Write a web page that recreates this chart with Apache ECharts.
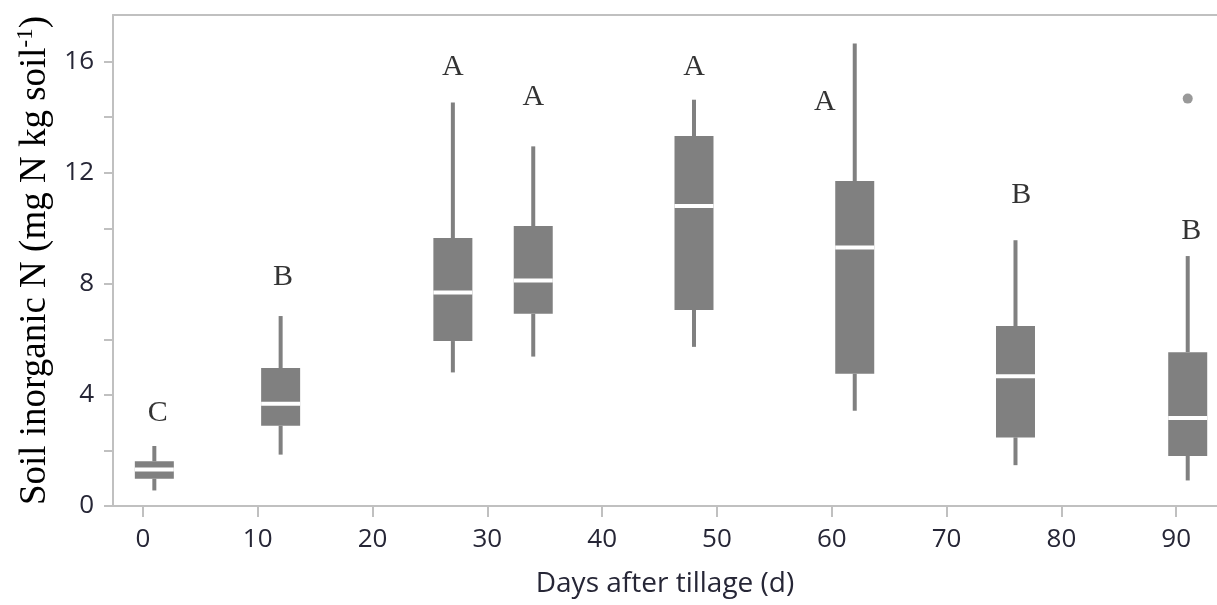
<!DOCTYPE html>
<html>
<head>
<meta charset="utf-8">
<script src="https://cdn.jsdelivr.net/npm/echarts@6/dist/echarts.min.js"></script>
<style>
html,body{margin:0;padding:0;background:#fff;}
#chart{width:1217px;height:605px;}
</style>
</head>
<body>
<div id="chart"></div>
<script>
// Box positions (days after tillage) and box statistics (mg N kg soil-1)
const days = [1, 12, 27, 34, 48, 62, 76, 91];
const whiskerLow  = [0.56, 1.85, 4.81, 5.38, 5.73, 3.43, 1.47, 0.92];
const q1          = [0.98, 2.89, 5.94, 6.92, 7.06, 4.76, 2.47, 1.80];
const median      = [1.31, 3.68, 7.69, 8.12, 10.80, 9.31, 4.67, 3.17];
const q3          = [1.61, 4.97, 9.65, 10.08, 13.32, 11.70, 6.48, 5.54];
const whiskerHigh = [2.16, 6.84, 14.53, 12.95, 14.63, 16.65, 9.57, 9.00];

// Outliers
const outlierDays = [91];
const outlierValues = [14.67];

// Significance letters
const letters = ['C', 'B', 'A', 'A', 'A', 'A', 'B', 'B'];
const letterX = [1.3, 12.2, 27, 34, 48, 59.4, 76.5, 91.3];
const letterY = [3.36, 8.24, 15.79, 14.74, 15.79, 14.56, 11.18, 9.9];

// Tick labels
const xTicks = [0, 10, 20, 30, 40, 50, 60, 70, 80, 90];
const yTicks = [0, 4, 8, 12, 16];
const yMinorTicks = [2, 6, 10, 14];

const X_MIN = -2.6, X_MAX = 93.55, Y_MIN = 0, Y_MAX = 17.68;

const boxData = days.map((d, i) => [d, whiskerLow[i], q1[i], median[i], q3[i], whiskerHigh[i]]);
const outlierData = outlierDays.map((d, i) => [d, outlierValues[i]]);
const letterData = letters.map((t, i) => ({ value: [letterX[i], letterY[i]], name: t }));
const allYTickMarks = yTicks.concat(yMinorTicks).sort((a, b) => a - b);

const GRAY = '#808080';
const AXIS = '#c0c0c0';
const SANS = 'Open Sans, Noto Sans, sans-serif';
const SERIF = 'Liberation Serif, Times New Roman, serif';
const TICKFONT = { fontFamily: SANS, fontSize: 26, color: '#262636' };

const chart = echarts.init(document.getElementById('chart'), null, { renderer: 'canvas' });

const option = {
  animation: false,
  backgroundColor: '#fff',
  grid: { left: 113, right: 0, top: 15, bottom: 99 },
  xAxis: [{
    type: 'value', min: X_MIN, max: X_MAX,
    name: 'Days after tillage (d)', nameLocation: 'middle', nameGap: 64,
    nameTextStyle: { fontFamily: SANS, fontSize: 28, color: '#262636' },
    axisLine: { show: true, onZero: false, lineStyle: { color: AXIS, width: 2 } },
    axisTick: { show: true, length: 11, lineStyle: { color: AXIS, width: 2 }, customValues: xTicks },
    axisLabel: { margin: 21, customValues: xTicks, ...TICKFONT },
    splitLine: { show: false }
  }, {
    type: 'value', position: 'top', min: X_MIN, max: X_MAX,
    axisLine: { show: true, onZero: false, lineStyle: { color: AXIS, width: 2 } },
    axisTick: { show: false }, axisLabel: { show: false }, splitLine: { show: false }
  }],
  yAxis: [{
    type: 'value', min: Y_MIN, max: Y_MAX,
    name: '{a|Soil inorganic N (mg N kg soil}{s|-1}{a|)}',
    nameLocation: 'middle', nameRotate: 90, nameGap: 56,
    nameTextStyle: {
      rich: {
        a: { fontFamily: SERIF, fontSize: 37, color: '#000', lineHeight: 41 },
        s: { fontFamily: SERIF, fontSize: 23, color: '#000', verticalAlign: 'top', lineHeight: 23 }
      }
    },
    axisLine: { show: true, onZero: false, lineStyle: { color: AXIS, width: 2 } },
    axisTick: { show: true, length: 9, lineStyle: { color: AXIS, width: 2 }, customValues: allYTickMarks },
    axisLabel: { margin: 19, customValues: yTicks, ...TICKFONT },
    splitLine: { show: false }
  }],
  series: [{
    type: 'custom',
    data: boxData,
    encode: { x: 0, y: [1, 2, 3, 4, 5] },
    renderItem: function (params, api) {
      const x = api.value(0);
      const pLow = api.coord([x, api.value(1)]);
      const pQ1 = api.coord([x, api.value(2)]);
      const pMed = api.coord([x, api.value(3)]);
      const pQ3 = api.coord([x, api.value(4)]);
      const pHigh = api.coord([x, api.value(5)]);
      const cx = pQ1[0];
      const bw = 39, ww = 4, mh = 4;
      return {
        type: 'group',
        children: [
          { type: 'rect', shape: { x: cx - ww / 2, y: pHigh[1], width: ww, height: pQ3[1] - pHigh[1] }, style: { fill: GRAY } },
          { type: 'rect', shape: { x: cx - ww / 2, y: pQ1[1], width: ww, height: pLow[1] - pQ1[1] }, style: { fill: GRAY } },
          { type: 'rect', shape: { x: cx - bw / 2, y: pQ3[1], width: bw, height: pQ1[1] - pQ3[1] }, style: { fill: GRAY } },
          { type: 'rect', shape: { x: cx - bw / 2, y: pMed[1] - mh / 2, width: bw, height: mh }, style: { fill: '#ffffff' } }
        ]
      };
    },
    z: 2
  }, {
    type: 'scatter',
    data: outlierData,
    symbol: 'circle', symbolSize: 10,
    itemStyle: { color: GRAY },
    z: 3
  }, {
    type: 'scatter',
    data: letterData,
    symbolSize: 0,
    label: {
      show: true, position: 'inside',
      formatter: p => p.name,
      fontFamily: SERIF, fontSize: 30, color: '#000'
    },
    z: 4
  }]
};
chart.setOption(option);
</script>
</body>
</html>
